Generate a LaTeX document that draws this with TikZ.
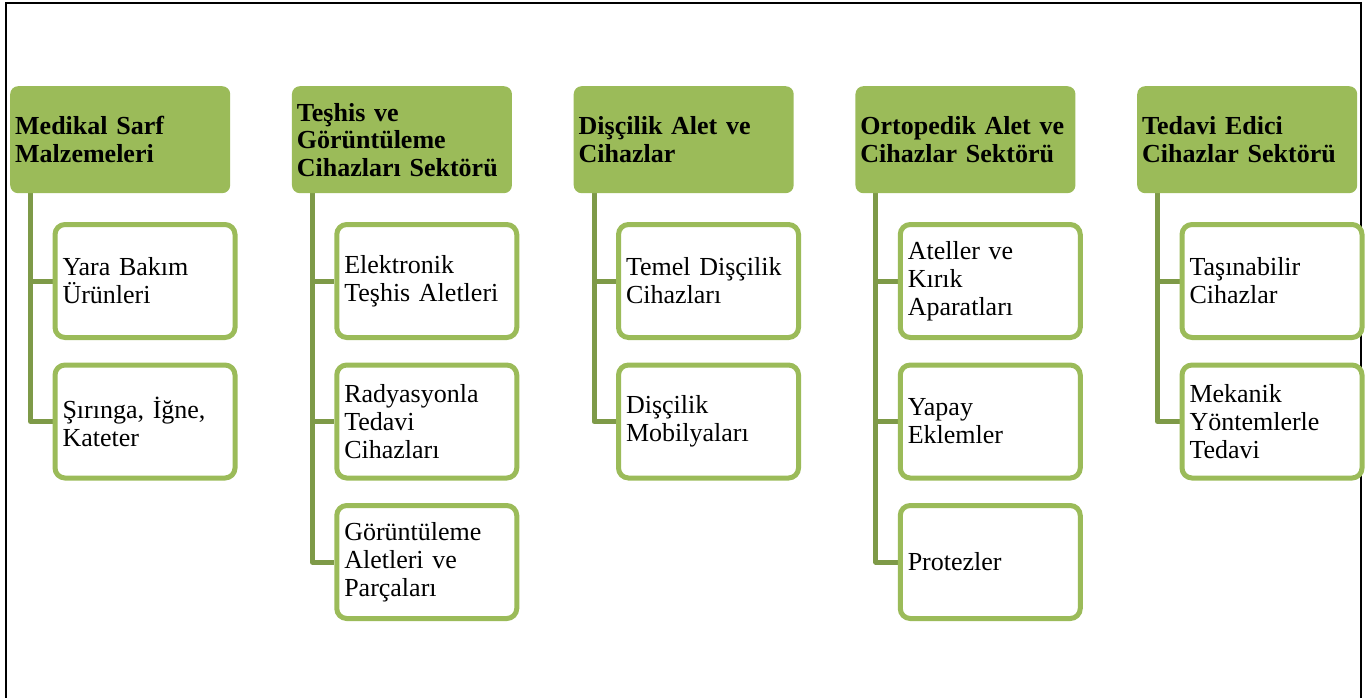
\documentclass[tikz,border=0pt]{standalone}
\usepackage{fontspec}
\setmainfont{Liberation Serif}
\usetikzlibrary{backgrounds}
\definecolor{hdrgreen}{HTML}{9BBB59}
\definecolor{boxgreen}{HTML}{9BBB59}
\definecolor{conngreen}{HTML}{7E9A48}
\tikzset{
  hdr/.style={anchor=north west, fill=hdrgreen, rounded corners=8pt, minimum width=220pt, minimum height=107pt,
    text width=210pt, inner xsep=5pt, inner ysep=0pt, align=left, font=\fontsize{26}{27.5}\selectfont\bfseries},
  child/.style={anchor=west, draw=boxgreen, line width=5pt, fill=white, rounded corners=10pt, minimum width=180pt,
    minimum height=113pt, text width=165pt, inner xsep=7.5pt, inner ysep=0pt, align=left, font=\fontsize{26}{28}\selectfont},
  conn/.style={draw=conngreen, line width=5pt, line join=round},
  frame/.style={draw=black, line width=2pt}
}
\begin{document}
\begin{tikzpicture}[x=1pt,y=-1pt]
\useasboundingbox (0,0) rectangle (1371,698);
\draw[frame] (6,698) -- (6,3) -- (1361,3) -- (1361,698);
% headers
\node[hdr] (h1) at (10,86) {Medikal Sarf\\Malzemeleri};
\node[hdr] (h2) at (291.75,86) {Teşhis ve\\Görüntüleme\\Cihazları Sektörü};
\node[hdr] (h3) at (573.5,86) {Dişçilik Alet ve\\Cihazlar};
\node[hdr] (h4) at (855.25,86) {Ortopedik Alet ve\\Cihazlar Sektörü};
\node[hdr] (h5) at (1137,86) {Tedavi Edici\\Cihazlar Sektörü};
% children
\node[child] (c11) at (52.5,281) {Yara Bakım\\Ürünleri};
\node[child] (c12) at (52.5,421.5) {Şırınga, İğne,\\Kateter};
\node[child] (c21) at (334.25,281) {Elektronik\\Teşhis Aletleri};
\node[child] (c22) at (334.25,421.5) {Radyasyonla\\Tedavi\\Cihazları};
\node[child] (c23) at (334.25,562) {Görüntüleme\\Aletleri ve\\Parçaları};
\node[child] (c31) at (616,281) {Temel Dişçilik\\Cihazları};
\node[child] (c32) at (616,421.5) {Dişçilik\\Mobilyaları};
\node[child] (c41) at (897.75,281) {Ateller ve\\Kırık\\Aparatları};
\node[child] (c42) at (897.75,421.5) {Yapay\\Eklemler};
\node[child] (c43) at (897.75,562) {Protezler};
\node[child] (c51) at (1179.5,281) {Taşınabilir\\Cihazlar};
\node[child] (c52) at (1179.5,421.5) {Mekanik\\Yöntemlerle\\Tedavi};
% connector origins
\coordinate (v1) at (30.5,193);
\coordinate (v2) at (312.25,193);
\coordinate (v3) at (594,193);
\coordinate (v4) at (875.75,193);
\coordinate (v5) at (1157.5,193);
\begin{pgfonlayer}{background}
\draw[conn] (v1) |- (c11.west);
\draw[conn] (v1) |- (c12.west);
\draw[conn] (v2) |- (c21.west);
\draw[conn] (v2) |- (c22.west);
\draw[conn] (v2) |- (c23.west);
\draw[conn] (v3) |- (c31.west);
\draw[conn] (v3) |- (c32.west);
\draw[conn] (v4) |- (c41.west);
\draw[conn] (v4) |- (c42.west);
\draw[conn] (v4) |- (c43.west);
\draw[conn] (v5) |- (c51.west);
\draw[conn] (v5) |- (c52.west);
\end{pgfonlayer}
\end{tikzpicture}
\end{document}
